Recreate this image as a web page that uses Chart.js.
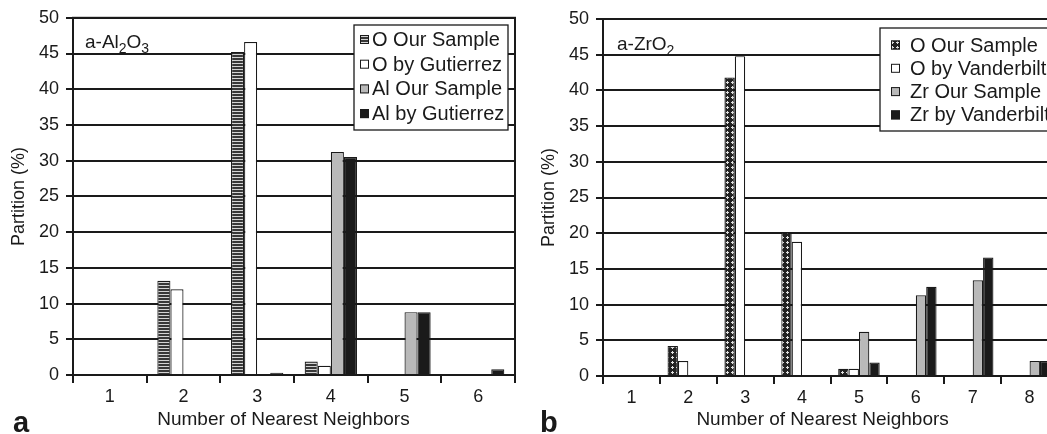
<!DOCTYPE html>
<html><head><meta charset="utf-8">
<script src="https://cdn.jsdelivr.net/npm/chart.js@4.4.1/dist/chart.umd.min.js"></script>
<style>
html,body{margin:0;padding:0;background:#fff;width:1047px;height:434px;overflow:hidden}
#wa{position:absolute;left:0;top:0;width:530px;height:434px}
#wb{position:absolute;left:530px;top:0;width:517px;height:434px;overflow:hidden}
canvas{display:block}
</style></head><body>
<div id="wa"><canvas id="ca" width="530" height="434"></canvas></div>
<div id="wb"><canvas id="cb" width="548" height="434"></canvas></div>
<script>
// ---- data ----
const categoriesA = ['1', '2', '3', '4', '5', '6'];
const oOurA   = [null, 13.2, 45.2, 1.9, null, null];
const oGutA   = [null, 12.0, 46.6, 1.3, null, null];
const alOurA  = [null, null, null, 31.2, 8.8, null];
const alGutA  = [null, null, 0.3, 30.5, 8.8, 0.8];

const categoriesB = ['1', '2', '3', '4', '5', '6', '7', '8'];
const oOurB   = [null, 4.2, 41.8, 20.1, 1.0, null, null, null];
const oVanB   = [null, 2.1, 44.8, 18.8, 1.0, null, null, null];
const zrOurB  = [null, null, null, null, 6.2, 11.3, 13.4, 2.1];
const zrVanB  = [null, null, null, null, 1.9, 12.5, 16.6, 2.1];

const yTickValues = [0, 5, 10, 15, 20, 25, 30, 35, 40, 45, 50];
const xTitle = 'Number of Nearest Neighbors';
const yTitle = 'Partition (%)';

// ---- styles ----
const FONT = '"Liberation Sans", Arial, Helvetica, sans-serif';
const INK = '#1a1a1a';

function stripePattern() {
  const c = document.createElement('canvas'); c.width = 4; c.height = 3;
  const g = c.getContext('2d');
  g.fillStyle = '#383838'; g.fillRect(0, 0, 4, 3);
  g.fillStyle = '#d4d4d4'; g.fillRect(0, 0, 4, 1);
  return g.createPattern(c, 'repeat');
}
function plusPattern() {
  const c = document.createElement('canvas'); c.width = 5; c.height = 5;
  const g = c.getContext('2d');
  g.fillStyle = '#222'; g.fillRect(0, 0, 5, 5);
  g.fillStyle = '#e0e0e0';
  g.fillRect(2, 1, 1, 3); g.fillRect(1, 2, 3, 1);
  return g.createPattern(c, 'repeat');
}

const decor = {
  id: 'decor',
  afterDatasetsDraw(chart, args, o) {
    const {ctx, chartArea: a} = chart;
    ctx.save();
    // frame
    ctx.strokeStyle = INK; ctx.lineWidth = 2;
    ctx.strokeRect(a.left, a.top, a.right - a.left, a.bottom - a.top);
    // legend box
    const L = o.legend;
    ctx.fillStyle = '#fff'; ctx.fillRect(L.x, L.y, L.w, L.h);
    ctx.lineWidth = 1.3; ctx.strokeStyle = INK; ctx.strokeRect(L.x, L.y, L.w, L.h);
    ctx.font = L.fontSize + 'px ' + FONT;
    ctx.textBaseline = 'middle'; ctx.textAlign = 'left';
    chart.data.datasets.forEach((ds, i) => {
      const cy = L.y0 + i * L.dy;
      ctx.fillStyle = ds.backgroundColor;
      ctx.fillRect(L.sx, cy - 4.5, 9, 9);
      ctx.lineWidth = 1; ctx.strokeStyle = INK;
      ctx.strokeRect(L.sx + 0.5, cy - 4, 8, 8);
      ctx.fillStyle = INK;
      ctx.fillText(ds.label, L.tx, cy + 1);
    });
    // compound label with subscripts
    let x = o.label.x;
    ctx.textBaseline = 'alphabetic';
    o.label.parts.forEach(([t, sub]) => {
      ctx.font = (sub ? 14 : 19) + 'px ' + FONT;
      ctx.fillText(t, x, o.label.y + (sub ? 5 : 0));
      x += ctx.measureText(t).width;
    });
    // panel letter
    ctx.font = 'bold 29px ' + FONT;
    ctx.fillText(o.panel.t, o.panel.x, o.panel.y);
    ctx.restore();
  }
};

function makeChart(id, cats, sets, opt) {
  return new Chart(document.getElementById(id), {
    type: 'bar',
    data: {
      labels: cats,
      datasets: sets.map(s => ({
        label: s.label, data: s.data, backgroundColor: s.bg,
        borderColor: INK, borderWidth: 1.2, borderSkipped: 'start',
        categoryPercentage: opt.catPct, barPercentage: 1.0
      }))
    },
    options: {
      responsive: false, animation: false, devicePixelRatio: 1,
      layout: {padding: {left: 0, right: opt.padRight, top: opt.top, bottom: 0}},
      plugins: {
        legend: {display: false}, tooltip: {enabled: false},
        decor: opt.decor
      },
      scales: {
        x: {
          type: 'category', offset: true,
          grid: {offset: true, drawOnChartArea: false, drawTicks: true, tickLength: 8, color: INK, lineWidth: 2},
          border: {display: true, color: INK, width: 2},
          ticks: {color: INK, font: {family: FONT, size: 18}, padding: 3, maxRotation: 0},
          title: {display: true, text: xTitle + opt.titlePad, color: INK, font: {family: FONT, size: 19}, padding: {top: 0, bottom: 3}},
          afterFit: s => { s.height = opt.xH; }
        },
        y: {
          min: 0, max: 50,
          afterBuildTicks: s => { s.ticks = yTickValues.map(v => ({value: v})); },
          grid: {color: INK, lineWidth: 2, drawTicks: true, tickLength: 7},
          border: {display: true, color: INK, width: 2},
          ticks: {color: INK, font: {family: FONT, size: 18}, padding: 7},
          title: {display: true, text: yTitle, color: INK, font: {family: FONT, size: 18}, padding: {top: 8, bottom: 0}},
          afterFit: s => { s.width = 73; }
        }
      }
    },
    plugins: [decor]
  });
}

makeChart('ca', categoriesA, [
  {label: 'O Our Sample', data: oOurA, bg: stripePattern()},
  {label: 'O by Gutierrez', data: oGutA, bg: '#ffffff'},
  {label: 'Al Our Sample', data: alOurA, bg: '#b9b9b9'},
  {label: 'Al by Gutierrez', data: alGutA, bg: '#1a1a1a'}
], {
  catPct: 0.71, padRight: 15, top: 17, xH: 59, titlePad: '\u00a0\u00a0\u00a0\u00a0',
  decor: {
    legend: {x: 354, y: 25, w: 154, h: 105, y0: 39.5, dy: 24.7, sx: 360, tx: 372, fontSize: 20},
    label: {x: 85, y: 48, parts: [['a-Al', false], ['2', true], ['O', false], ['3', true]]},
    panel: {t: 'a', x: 13, y: 432}
  }
});

makeChart('cb', categoriesB, [
  {label: 'O Our Sample', data: oOurB, bg: plusPattern()},
  {label: 'O by Vanderbilt', data: oVanB, bg: '#ffffff'},
  {label: 'Zr Our Sample', data: zrOurB, bg: '#b9b9b9'},
  {label: 'Zr by Vanderbilt', data: zrVanB, bg: '#1a1a1a'}
], {
  catPct: 0.73, padRight: 20, top: 19, xH: 58, titlePad: '\u00a0\u00a0\u00a0',
  decor: {
    legend: {x: 350, y: 28, w: 180, h: 103, y0: 45, dy: 23.3, sx: 361, tx: 380, fontSize: 20},
    label: {x: 87, y: 50, parts: [['a-ZrO', false], ['2', true]]},
    panel: {t: 'b', x: 10, y: 432}
  }
});
</script>
</body></html>
